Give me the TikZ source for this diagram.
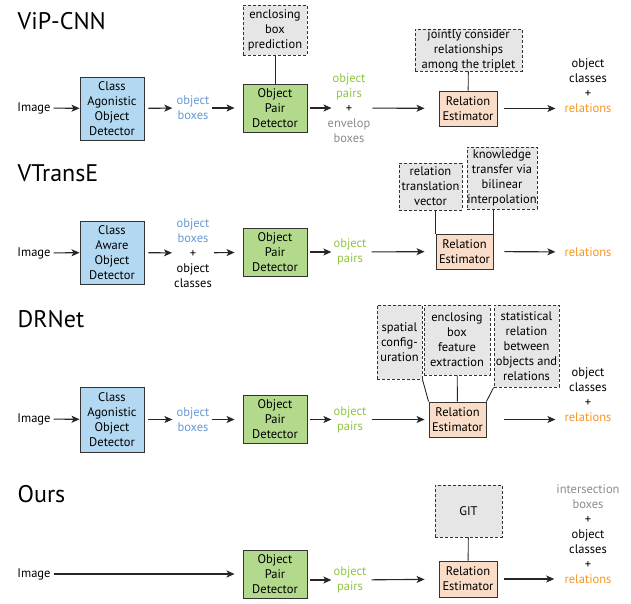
\documentclass[tikz,border=0pt]{standalone}
\usepackage{fontspec}
\setmainfont{PT Sans}
\usepackage{xcolor}
\usetikzlibrary{arrows.meta, positioning, calc}

\definecolor{detblue}{RGB}{179,217,242}
\definecolor{pairgreen}{RGB}{178,217,140}
\definecolor{relpeach}{RGB}{249,221,200}
\definecolor{notegray}{RGB}{230,230,230}
\definecolor{txtblue}{RGB}{102,153,214}
\definecolor{txtgreen}{RGB}{141,198,63}
\definecolor{txtgray}{RGB}{140,140,140}
\definecolor{txtorange}{RGB}{247,148,30}

\begin{document}
\begin{tikzpicture}[
    x=1pt, y=-1pt,
    font=\fontsize{12.5}{15}\selectfont,
    >={Stealth[length=8pt, width=7pt, inset=2pt]},
    flow/.style={->, line width=1.1pt, draw=black!85},
    link/.style={line width=0.9pt, draw=black!85},
    label text/.style={align=center, inner sep=2pt},
    title text/.style={anchor=base west, inner sep=0pt, font=\fontsize{24}{28}\selectfont},
    block/.style={draw=black!80, line width=0.9pt, align=center, inner sep=0pt},
    detector/.style={block, fill=detblue, minimum width=64, minimum height=63},
    pair detector/.style={block, fill=pairgreen, minimum width=64, minimum height=48},
    estimator/.style={block, fill=relpeach, minimum width=57, minimum height=35},
    note box/.style={block, fill=notegray, dash pattern=on 3pt off 2pt}
]

    % Frame
    \useasboundingbox (0,0) rectangle (631,604);

    % --- ViP-CNN ---
    \node[title text] (t1) at (17.5,30) {ViP-CNN};
    \node[label text] (img1) at (34,108) {Image};
    \node[detector] (cad1) at (112,108.5) {Class\\Agonistic\\Object\\Detector};
    \node[label text, text=txtblue] (ob1) at (193,108) {object\\boxes};
    \node[pair detector] (opd1) at (275,108) {Object\\Pair\\Detector};
    \node[note box, minimum width=64, minimum height=50] (ebp1) at (275,30) {enclosing\\box\\prediction};
    \node[label text] (op1) at (349,108) {\textcolor{txtgreen}{object}\\\textcolor{txtgreen}{pairs}\\+\\\textcolor{txtgray}{envelop}\\\textcolor{txtgray}{boxes}};
    \node[estimator, minimum width=58] (re1) at (468,108.5) {Relation\\Estimator};
    \node[note box, minimum width=107, minimum height=42] (jc1) at (468.5,50) {jointly consider\\relationships\\among the triplet};
    \node[label text] (out1) at (588,86) {object\\classes\\+\\\textcolor{txtorange}{relations}};

    \draw[flow, shorten <=1pt] (img1) -- (cad1);
    \draw[flow, shorten <=4pt, shorten >=2pt] (cad1) -- (ob1);
    \draw[flow, shorten >=8pt] (ob1) -- (opd1);
    \draw[flow, shorten <=3pt] (opd1) -- ([xshift=6]op1.west);
    \draw[flow, shorten >=14pt] (op1) -- (re1);
    \draw[flow, shorten <=7pt, shorten >=7pt] (re1) -- (re1 -| out1.west);
    \draw[link] (ebp1) -- (opd1);
    \draw[link] (jc1) -- (re1);

    % --- VTransE ---
    \node[title text] (t2) at (17.5,182) {VTransE};
    \node[label text] (img2) at (34,253) {Image};
    \node[detector] (cad2) at (112,252.5) {Class\\Aware\\Object\\Detector};
    \node[label text] (ob2) at (193,253) {\textcolor{txtblue}{object}\\\textcolor{txtblue}{boxes}\\+\\object\\classes};
    \node[pair detector] (opd2) at (275,252) {Object\\Pair\\Detector};
    \node[label text, text=txtgreen] (op2) at (350,252) {object\\pairs};
    \node[estimator] (re2) at (464.5,251.5) {Relation\\Estimator};
    \node[note box, minimum width=63, minimum height=47] (rtv2) at (430.5,186.5) {relation\\translation\\vector};
    \node[note box, minimum width=70, minimum height=62] (ktb2) at (502,178) {knowledge\\transfer via\\bilinear\\interpolation};
    \node[label text, text=txtorange] (rel2) at (588,252) {relations};

    \draw[flow, shorten <=1pt] (img2) -- (cad2);
    \draw[flow, shorten <=4pt] (cad2) -- (ob2);
    \draw[flow, shorten >=8pt] (ob2) -- (opd2);
    \draw[flow, shorten <=3pt] (opd2) -- (op2);
    \draw[flow, shorten <=3pt, shorten >=11pt] (op2) -- (re2);
    \draw[flow, shorten <=11pt, shorten >=7pt] (re2) -- (rel2);
    \draw[link] (re2.north west) -- (re2.north west |- rtv2.south);
    \draw[link] (re2.north east) -- (re2.north east |- ktb2.south);

    % --- DRNet ---
    \node[title text] (t3) at (17.5,327) {DRNet};
    \node[label text] (img3) at (34,419) {Image};
    \node[detector, minimum height=65] (cad3) at (112,419.5) {Class\\Agonistic\\Object\\Detector};
    \node[label text, text=txtblue] (ob3) at (193,419.5) {object\\boxes};
    \node[pair detector] (opd3) at (275,419.5) {Object\\Pair\\Detector};
    \node[label text, text=txtgreen] (op3) at (350,419.5) {object\\pairs};
    \node[estimator] (re3) at (457.5,419.5) {Relation\\Estimator};
    \node[note box, minimum width=45, minimum height=74] (sc3) at (399.5,342) {spatial\\config-\\uration};
    \node[note box, minimum width=66, minimum height=70] (eb3) at (457,340) {enclosing\\box\\feature\\extraction};
    \node[note box, minimum width=65, minimum height=82] (st3) at (526.5,346) {statistical\\relation\\between\\objects and\\relations};
    \node[label text] (out3) at (588,395) {object\\classes\\+\\\textcolor{txtorange}{relations}};

    \draw[flow, shorten <=1pt] (img3) -- (cad3);
    \draw[flow, shorten <=4pt, shorten >=2pt] (cad3) -- (ob3);
    \draw[flow, shorten >=8pt] (ob3) -- (opd3);
    \draw[flow, shorten <=3pt] (opd3) -- (op3);
    \draw[flow, shorten <=3pt, shorten >=4pt] (op3) -- (re3);
    \draw[flow, shorten <=18pt, shorten >=7pt] (re3) -- (re3 -| out3.west);
    \draw[link] (sc3.south east) -- (re3.north west);
    \draw[link] (eb3) -- (re3);
    \draw[link] (st3.south west) -- (re3.north east);

    % --- Ours ---
    \node[title text] (t4) at (17.5,502) {Ours};
    \node[label text] (img4) at (34,574) {Image};
    \node[pair detector] (opd4) at (275,574) {Object\\Pair\\Detector};
    \node[label text, text=txtgreen] (op4) at (350,580) {object\\pairs};
    \node[estimator, minimum width=58, minimum height=36] (re4) at (468,579) {Relation\\Estimator};
    \node[note box, minimum width=67, minimum height=52] (git4) at (468.5,511) {GIT};
    \node[label text] (out4) at (588,534) {\textcolor{txtgray}{intersection}\\\textcolor{txtgray}{boxes}\\+\\object\\classes\\+\\\textcolor{txtorange}{relations}};

    \draw[flow, shorten <=1pt, shorten >=8pt] (img4) -- (opd4);
    \draw[flow, shorten <=3pt] (opd4.east |- op4) -- (op4);
    \draw[flow, shorten <=3pt, shorten >=14pt] (op4) -- (re4);
    \draw[flow, shorten <=7pt] (re4) -- (re4 -| out4.west);
    \draw[link] (git4) -- (re4);

\end{tikzpicture}
\end{document}
